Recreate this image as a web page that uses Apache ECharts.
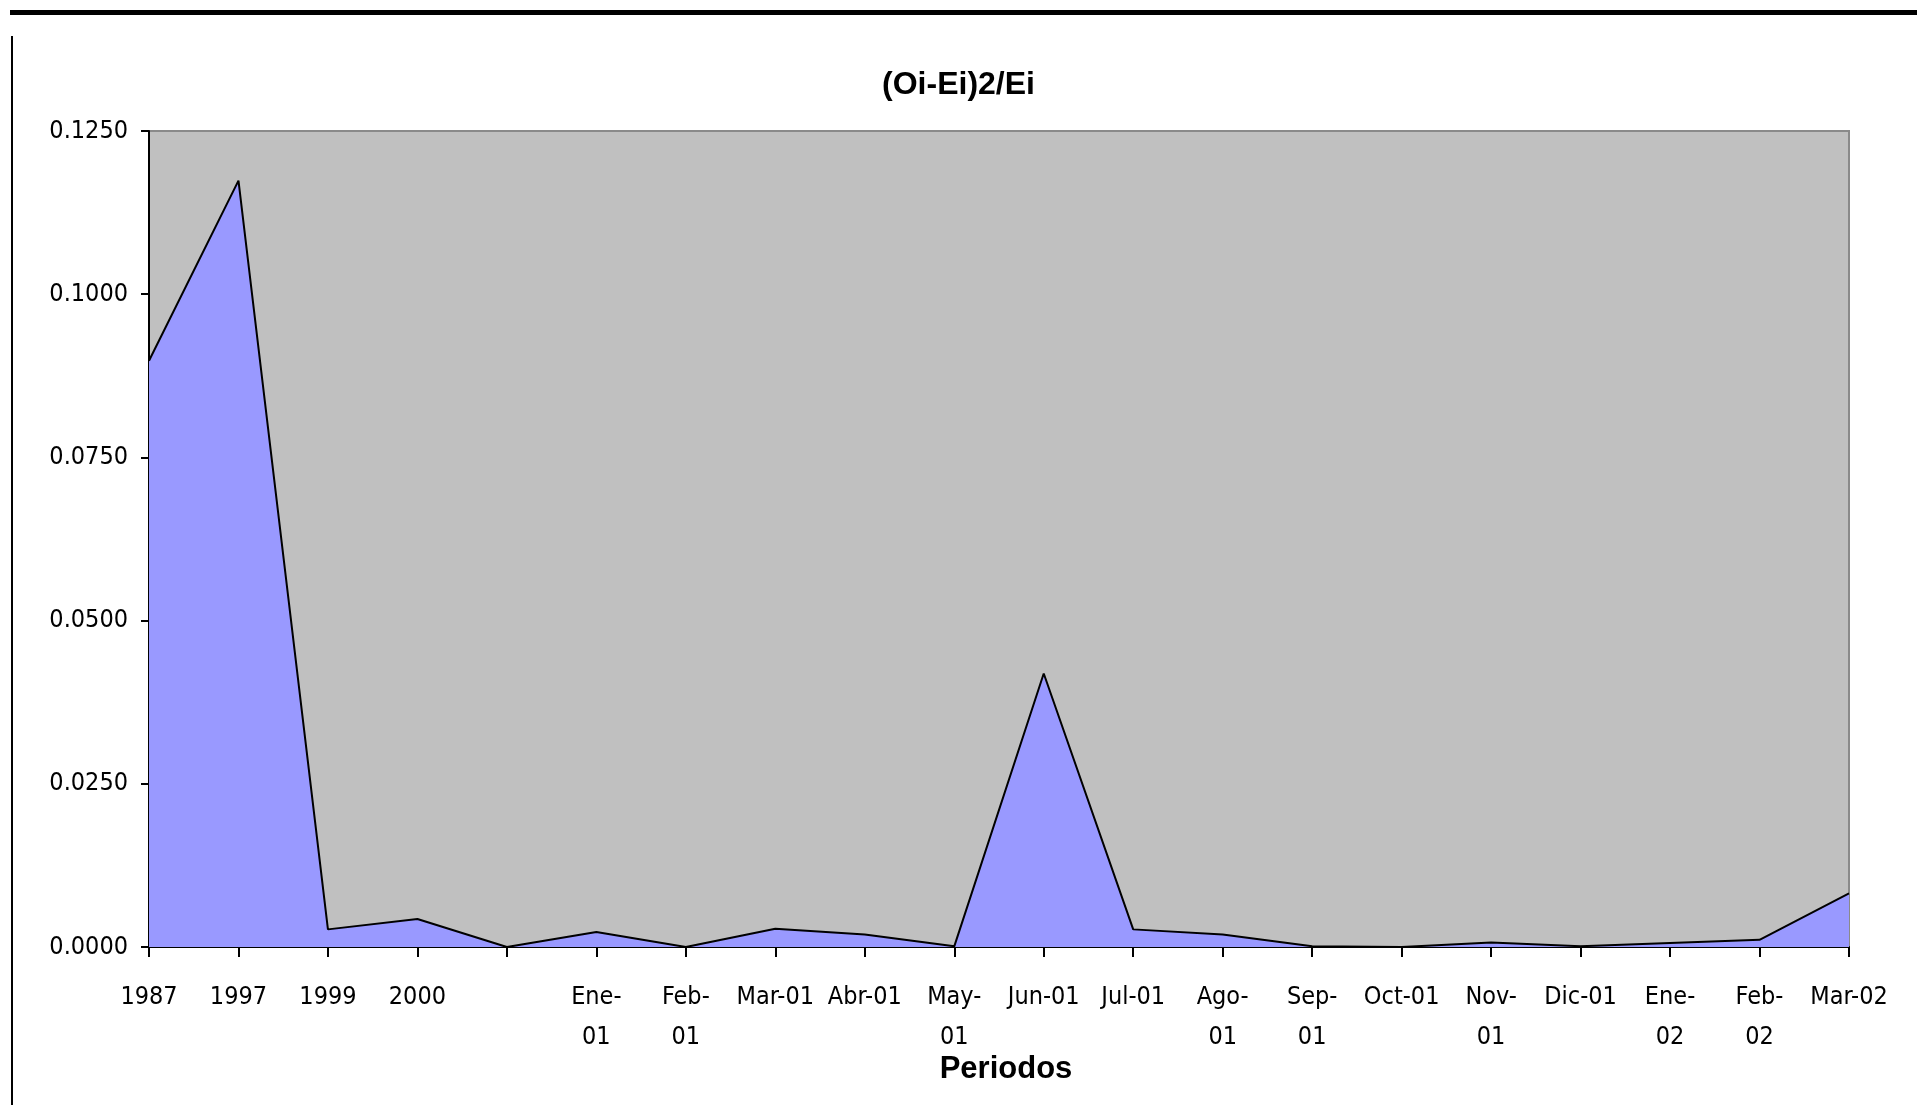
<!DOCTYPE html>
<html>
<head>
<meta charset="utf-8">
<script src="https://cdn.jsdelivr.net/npm/echarts@6/dist/echarts.min.js"></script>
<style>
html,body{margin:0;padding:0;background:#fff;}
#chart{width:1917px;height:1105px;}
</style>
</head>
<body>
<div id="chart"></div>
<script>
var categories = ['1987','1997','1999','2000','','Ene-01','Feb-01','Mar-01','Abr-01','May-01','Jun-01','Jul-01','Ago-01','Sep-01','Oct-01','Nov-01','Dic-01','Ene-02','Feb-02','Mar-02'];
var wrappedLabels = ['Ene-01','Feb-01','May-01','Ago-01','Sep-01','Nov-01','Ene-02','Feb-02'];
var values = [0.0898,0.1174,0.0027,0.0043,0.0000,0.0023,0.0000,0.0028,0.0019,0.0001,0.0419,0.0027,0.0019,0.0001,0.0000,0.0007,0.0001,0.0006,0.0011,0.0082];
var yTicks = [0, 0.025, 0.05, 0.075, 0.1, 0.125];

var narrow = "'Liberation Sans Narrow','DejaVu Sans Condensed','Arial Narrow',sans-serif";
var chart = echarts.init(document.getElementById('chart'), null, {renderer:'canvas'});
chart.setOption({
  backgroundColor:'#ffffff',
  animation:false,
  title:{
    text:'(Oi-Ei)2/Ei',
    left:'center',
    top:64,
    textStyle:{fontFamily:"'Liberation Sans',Arial,sans-serif",fontSize:32,fontWeight:'bold',color:'#000'}
  },
  graphic:[
    {type:'rect',shape:{x:10,y:10,width:1907,height:5},style:{fill:'#000'}},
    {type:'rect',shape:{x:11,y:36,width:2,height:1069},style:{fill:'#000'}}
  ],
  grid:{left:149,right:68,top:131,bottom:158,show:true,backgroundColor:'#C0C0C0',borderColor:'#8a8a8a',borderWidth:2},
  xAxis:{
    type:'category',
    data:categories,
    boundaryGap:false,
    name:'Periodos',
    nameLocation:'middle',
    nameGap:107,
    nameMoveOverlap:false,
    nameTextStyle:{fontFamily:"'Liberation Sans',Arial,sans-serif",fontSize:31,fontWeight:'bold',color:'#000',padding:[0,0,0,14]},
    axisLine:{lineStyle:{color:'#000',width:2}},
    axisTick:{show:true,interval:0,length:10,lineStyle:{color:'#000',width:2}},
    axisLabel:{
      interval:0,
      margin:30,
      fontFamily:narrow,
      fontSize:25,
      lineHeight:40,
      color:'#000',
      formatter:function(v){
        if(wrappedLabels.indexOf(v)>=0){var p=v.split('-');return p[0]+'-\n'+p[1];}
        return v;
      }
    },
    splitLine:{show:false}
  },
  yAxis:{
    type:'value',
    min:yTicks[0],
    max:yTicks[yTicks.length-1],
    interval:0.025,
    axisLine:{show:true,lineStyle:{color:'#000',width:2}},
    axisTick:{show:true,length:8,lineStyle:{color:'#000',width:2}},
    axisLabel:{margin:21,fontFamily:narrow,fontSize:25,color:'#000',formatter:function(v){return v.toFixed(4);}},
    splitLine:{show:false}
  },
  series:[{
    type:'line',
    data:values,
    symbol:'none',
    lineStyle:{color:'#000',width:2},
    areaStyle:{color:'#9999FF',opacity:1}
  }]
});
</script>
</body>
</html>
